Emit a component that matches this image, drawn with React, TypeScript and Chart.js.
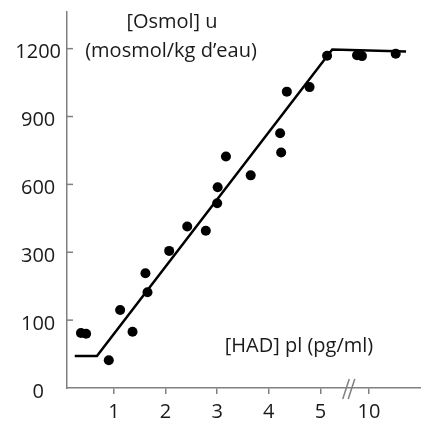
import React, { useEffect, useRef } from "react";
import { Chart, registerables } from "chart.js";

Chart.register(...registerables);

// [HAD] pl (pg/ml) of each measured point
const hadValues = [0.36, 0.46, 0.9, 1.12, 1.36, 1.61, 1.65, 2.07, 2.42, 2.78, 3.0, 3.01, 3.17, 3.65, 4.22, 4.24, 4.35, 4.79, 5.13, 8.85, 9.33, 12.6];
// [Osmol] u (mosmol/kg d'eau) of each measured point
const osmolValues = [81, 80, 41, 130, 83, 238, 182, 306, 414, 395, 517, 587, 723, 640, 826, 741, 1010, 1030, 1169, 1171, 1167, 1178];
// fitted broken line
const fitHad = [0.24, 0.67, 5.23, 13.6];
const fitOsmol = [47, 47, 1196, 1187];
// axis ticks
const yTickValues = [0, 100, 300, 600, 900, 1200];
const xTickValues = [1, 2, 3, 4, 5, 10];
const yTitleLines = ["[Osmol] u", "(mosmol/kg d\u2019eau)"];
const xTitle = "[HAD] pl (pg/ml)";

const X_BREAK = 5.5;
const AXIS = "#808080";
const TEXT = "#1a1a1a";
const FONT = "'Open Sans', 'Noto Sans', sans-serif";

// the x axis is broken after 5: 10 sits just under one unit after 5
function xPos(v: number): number {
  return v <= X_BREAK ? v : 5.94 + (v - 10) / 5;
}
// the y axis places its labels at even steps
function yPos(v: number): number {
  const t = yTickValues;
  for (let i = 0; i < t.length - 1; i++) {
    if (v <= t[i + 1] || i === t.length - 2) {
      return i + (v - t[i]) / (t[i + 1] - t[i]);
    }
  }
  return 0;
}

const decor = {
  id: "decor",
  afterDraw(chart: any) {
    const { ctx, chartArea, scales } = chart;
    const x = scales.x;
    const y = scales.y;
    ctx.save();
    // inner tick marks on y axis
    ctx.strokeStyle = AXIS;
    ctx.lineWidth = 1.5;
    yTickValues.forEach((v) => {
      if (v === 0) return;
      const py = y.getPixelForValue(yPos(v));
      ctx.beginPath();
      ctx.moveTo(chartArea.left, py);
      ctx.lineTo(chartArea.left + 6, py);
      ctx.stroke();
    });
    // axis break mark
    const bx = x.getPixelForValue(X_BREAK + 0.05);
    const by = chartArea.bottom;
    [0, 5.5].forEach((dx) => {
      ctx.beginPath();
      ctx.moveTo(bx - 6 + dx, by + 11);
      ctx.lineTo(bx + 0.5 + dx, by - 9);
      ctx.stroke();
    });
    // titles
    ctx.fillStyle = TEXT;
    ctx.font = "20px " + FONT;
    ctx.textAlign = "center";
    ctx.textBaseline = "middle";
    ctx.fillText(yTitleLines[0], chartArea.left + 105, chartArea.top + 10);
    ctx.fillText(yTitleLines[1], chartArea.left + 104, chartArea.top + 39);
    ctx.fillText(xTitle, chartArea.left + 232, chartArea.bottom - 42);
    ctx.restore();
  },
};

export default function App() {
  const ref = useRef<HTMLCanvasElement | null>(null);
  useEffect(() => {
    if (!ref.current) return;
    const chart = new Chart(ref.current, {
      type: "scatter",
      data: {
        datasets: [
          {
            data: fitHad.map((v, i) => ({ x: xPos(v), y: yPos(fitOsmol[i]) })),
            showLine: true,
            borderColor: "#000000",
            borderWidth: 2.5,
            pointRadius: 0,
            fill: false,
            tension: 0,
          } as any,
          {
            data: hadValues.map((v, i) => ({ x: xPos(v), y: yPos(osmolValues[i]) })),
            pointRadius: 5,
            pointHoverRadius: 5,
            backgroundColor: "#000000",
            borderWidth: 0,
          },
        ],
      },
      options: {
        animation: false,
        responsive: false,
        layout: { autoPadding: false, padding: { top: 12, right: 0, left: 0, bottom: 0 } },
        plugins: { legend: { display: false }, tooltip: { enabled: false } },
        scales: {
          x: {
            type: "linear",
            min: 0.09,
            max: 6.95,
            afterBuildTicks: (s: any) => {
              s.ticks = xTickValues.map((v) => ({ value: xPos(v) }));
            },
            afterFit: (s: any) => {
              s.height = 33;
              s.paddingLeft = 0;
              s.paddingRight = 0;
              s.paddingTop = 0;
              s.paddingBottom = 0;
            },
            ticks: {
              autoSkip: false,
              maxRotation: 0,
              padding: 6,
              color: TEXT,
              font: { family: FONT, size: 20 },
              callback: (_v: any, i: number) => String(xTickValues[i]),
            },
            grid: {
              display: true,
              drawOnChartArea: false,
              drawTicks: true,
              tickLength: 6,
              color: AXIS,
              lineWidth: 1.5,
            },
            border: { display: true, color: AXIS, width: 1.5 },
          },
          y: {
            type: "linear",
            min: 0,
            max: 5.54,
            afterBuildTicks: (s: any) => {
              s.ticks = yTickValues.map((v) => ({ value: yPos(v) }));
            },
            afterFit: (s: any) => {
              s.width = 67;
              s.paddingLeft = 0;
              s.paddingRight = 0;
              s.paddingTop = 0;
              s.paddingBottom = 0;
            },
            ticks: {
              autoSkip: false,
              crossAlign: "center",
              padding: 6,
              labelOffset: 4,
              color: TEXT,
              font: { family: FONT, size: 20 },
              callback: (_v: any, i: number) => String(yTickValues[i]),
            },
            grid: { display: false, drawTicks: false },
            border: { display: true, color: AXIS, width: 1.5 },
          },
        },
      },
      plugins: [decor],
    } as any);
    return () => chart.destroy();
  }, []);
  return (
    <div style={{ position: "absolute", left: 0, top: 0, width: 421, height: 421 }}>
      <canvas ref={ref} width={421} height={421} style={{ display: "block", width: 421, height: 421 }} />
    </div>
  );
}
